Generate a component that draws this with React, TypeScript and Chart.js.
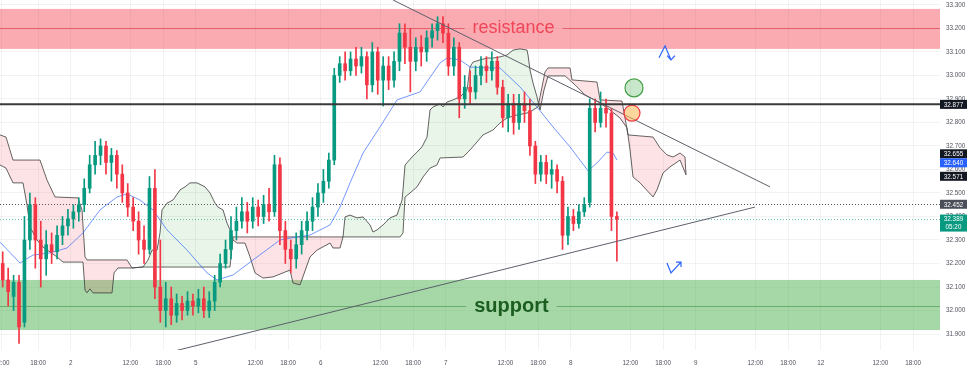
import React, { useEffect, useRef } from "react";
import { Chart, registerables } from "chart.js";

Chart.register(...registerables);

// ---------- candles (hourly, x = hours from chart start) ----------
const CANDLE_OFFSET = 0.5;
const OPEN = [
  32.20, 32.13, 32.06, 32.12, 31.95, 32.30, 32.45, 32.30, 32.22, 32.28,
  32.25, 32.32, 32.36, 32.39, 32.42, 32.45, 32.52, 32.62, 32.66, 32.70,
  32.63, 32.66, 32.58, 32.50, 32.44, 32.38, 32.30, 32.26, 32.52, 32.10,
  32.00, 32.05, 31.98, 32.03, 32.00, 32.04, 32.02, 32.05, 32.00, 32.04,
  32.12, 32.20, 32.26, 32.34, 32.38, 32.42, 32.38, 32.44, 32.40, 32.45,
  32.42, 32.62, 32.34, 32.26, 32.22, 32.28, 32.34, 32.38, 32.44, 32.50,
  32.55, 32.64, 33.00, 33.05, 33.02, 33.07, 33.04, 33.08, 32.96, 33.10,
  32.98, 33.04, 32.98, 33.06, 33.18, 33.12, 33.06, 33.12, 33.10, 33.16,
  33.19, 33.22, 33.18, 33.04, 33.12, 32.90, 32.95, 32.93, 33.00, 33.04,
  33.02, 33.06, 32.95, 32.82, 32.88, 32.80, 32.88, 32.85, 32.70, 32.58,
  32.63, 32.58, 32.60, 32.55, 32.32, 32.40, 32.37, 32.42, 32.46, 32.86,
  32.80, 32.86, 32.84, 32.40,
];
const HIGH = [
  32.25, 32.18, 32.15, 32.15, 32.40, 32.50, 32.48, 32.38, 32.34, 32.33,
  32.36, 32.40, 32.43, 32.45, 32.48, 32.56, 32.66, 32.72, 32.73, 32.72,
  32.69, 32.68, 32.62, 32.54, 32.48, 32.42, 32.36, 32.57, 32.60, 32.30,
  32.12, 32.10, 32.07, 32.06, 32.08, 32.07, 32.09, 32.10, 32.08, 32.15,
  32.24, 32.30, 32.40, 32.44, 32.48, 32.46, 32.48, 32.47, 32.49, 32.52,
  32.66, 32.65, 32.38, 32.30, 32.33, 32.38, 32.42, 32.48, 32.54, 32.60,
  32.67, 33.03, 33.08, 33.10, 33.10, 33.12, 33.12, 33.10, 33.14, 33.12,
  33.08, 33.08, 33.10, 33.22, 33.22, 33.20, 33.16, 33.17, 33.19, 33.22,
  33.25, 33.25, 33.22, 33.16, 33.14, 33.00, 33.02, 33.04, 33.08, 33.08,
  33.10, 33.08, 32.98, 32.92, 32.92, 32.92, 32.93, 32.90, 32.72, 32.66,
  32.66, 32.64, 32.62, 32.57, 32.44, 32.43, 32.45, 32.48, 32.90, 32.90,
  32.93, 32.90, 32.86, 32.42,
];
const LOW = [
  32.10, 32.02, 32.00, 31.86, 31.93, 32.26, 32.18, 32.10, 32.15, 32.20,
  32.22, 32.28, 32.32, 32.35, 32.38, 32.42, 32.50, 32.58, 32.62, 32.58,
  32.55, 32.52, 32.46, 32.40, 32.34, 32.24, 32.20, 32.24, 32.05, 31.95,
  31.93, 31.94, 31.95, 31.96, 31.98, 31.98, 31.99, 31.97, 31.97, 32.00,
  32.10, 32.18, 32.22, 32.30, 32.35, 32.33, 32.35, 32.36, 32.37, 32.38,
  32.40, 32.28, 32.20, 32.16, 32.18, 32.24, 32.30, 32.34, 32.40, 32.46,
  32.52, 32.62, 32.97, 32.98, 33.00, 33.00, 33.01, 32.90, 32.93, 32.92,
  32.87, 32.94, 32.95, 33.02, 33.05, 32.93, 33.02, 33.04, 33.06, 33.12,
  33.15, 33.14, 33.00, 33.00, 32.82, 32.86, 32.88, 32.90, 32.96, 32.97,
  32.98, 32.92, 32.78, 32.76, 32.75, 32.77, 32.80, 32.66, 32.54, 32.55,
  32.54, 32.52, 32.50, 32.26, 32.28, 32.34, 32.35, 32.40, 32.44, 32.76,
  32.78, 32.78, 32.34, 32.21,
];
const CLOSE = [
  32.13, 32.08, 32.12, 31.93, 32.30, 32.45, 32.30, 32.22, 32.28, 32.25,
  32.32, 32.36, 32.39, 32.42, 32.45, 32.52, 32.62, 32.66, 32.70, 32.63,
  32.66, 32.58, 32.50, 32.44, 32.38, 32.30, 32.26, 32.52, 32.10, 32.00,
  32.05, 31.98, 32.03, 32.00, 32.04, 32.02, 32.05, 32.00, 32.04, 32.12,
  32.20, 32.26, 32.34, 32.38, 32.42, 32.38, 32.44, 32.40, 32.45, 32.42,
  32.62, 32.34, 32.26, 32.22, 32.28, 32.34, 32.38, 32.44, 32.50, 32.55,
  32.64, 33.00, 33.05, 33.02, 33.07, 33.04, 33.08, 32.96, 33.10, 32.98,
  33.04, 32.98, 33.06, 33.18, 33.12, 33.06, 33.12, 33.10, 33.16, 33.19,
  33.22, 33.18, 33.04, 33.12, 32.90, 32.95, 32.93, 33.00, 33.04, 33.02,
  33.06, 32.95, 32.82, 32.88, 32.80, 32.88, 32.85, 32.70, 32.58, 32.63,
  32.58, 32.60, 32.55, 32.32, 32.40, 32.37, 32.42, 32.45, 32.86, 32.80,
  32.86, 32.84, 32.40, 32.389,
];

// ---------- Ichimoku cloud spans [hour, price] ----------
const SPAN_A: [number, number][] = [
  [0, 32.619], [1.10, 32.606], [2.39, 32.543], [4.23, 32.543], [4.97, 32.449], [5.52, 32.355],
  [6.81, 32.300], [7.91, 32.270], [10.49, 32.228], [11.59, 32.206], [15.27, 32.206], [15.64, 32.087],
  [16.01, 32.075], [16.56, 32.092], [17.11, 32.075], [20.61, 32.075], [20.98, 32.160], [21.71, 32.181],
  [24.29, 32.181], [26.31, 32.185], [27.23, 32.215], [27.97, 32.257], [28.89, 32.257], [29.44, 32.330],
  [29.81, 32.428], [30.73, 32.457], [31.83, 32.470], [33.12, 32.513], [34.04, 32.526], [34.96, 32.543],
  [36.25, 32.543], [37.72, 32.526], [38.64, 32.500], [39.56, 32.457], [40.11, 32.440], [41.03, 32.428],
  [41.77, 32.372], [42.32, 32.343], [42.87, 32.300], [43.61, 32.287], [45.08, 32.287], [46.00, 32.228],
  [46.92, 32.160], [48.39, 32.138], [50.23, 32.143], [53.36, 32.172], [53.91, 32.117], [55.20, 32.109],
  [57.04, 32.228], [58.33, 32.257], [60.72, 32.287], [61.27, 32.266], [62.56, 32.266], [63.11, 32.313],
  [63.48, 32.398], [64.40, 32.406], [65.69, 32.394], [66.79, 32.398], [68.08, 32.364], [68.63, 32.334],
  [69.37, 32.343], [70.47, 32.364], [71.76, 32.394], [73.05, 32.406], [73.97, 32.470], [74.15, 32.513],
  [74.52, 32.619], [75.81, 32.653], [76.73, 32.674], [77.64, 32.696], [78.57, 32.738], [79.12, 32.853],
  [79.67, 32.866], [80.96, 32.879], [81.51, 32.866], [82.25, 32.887], [83.35, 32.896], [84.64, 32.909],
  [85.93, 32.938], [86.48, 33.036], [87.03, 33.057], [88.32, 33.066], [89.61, 33.074], [90.71, 33.074],
  [92.00, 33.079], [93.28, 33.087], [94.39, 33.108], [95.68, 33.113], [96.96, 33.108], [97.15, 33.087],
  [97.52, 33.023], [98.07, 32.968], [98.80, 32.909], [99.36, 32.853], [100.09, 32.938], [100.83, 32.998],
  [103.96, 32.998], [105.80, 32.960], [107.64, 32.917], [110.40, 32.883], [112.24, 32.853], [114.08, 32.819],
  [115.36, 32.777], [115.92, 32.683], [116.47, 32.568], [117.76, 32.543], [120.15, 32.483], [120.88, 32.513],
  [121.99, 32.585], [123.28, 32.611], [125.12, 32.640], [126.22, 32.577],
];
const SPAN_B: [number, number][] = [
  [0, 32.747], [1.10, 32.738], [2.39, 32.640], [7.36, 32.640], [8.65, 32.555], [10.12, 32.483],
  [14.35, 32.479], [15.09, 32.428], [15.64, 32.228], [16.01, 32.215], [23.37, 32.215], [24.29, 32.181],
  [26.31, 32.185], [42.32, 32.185], [42.87, 32.313], [60.72, 32.313], [73.60, 32.313], [74.15, 32.330],
  [74.52, 32.483], [75.44, 32.500], [76.73, 32.526], [77.83, 32.568], [79.12, 32.606], [80.40, 32.619],
  [80.96, 32.649], [85.19, 32.653], [86.48, 32.683], [87.76, 32.717], [88.87, 32.747], [90.71, 32.768],
  [92.00, 32.798], [93.28, 32.819], [95.12, 32.832], [96.96, 32.840], [98.07, 32.853], [98.99, 32.866],
  [100.28, 33.015], [100.83, 33.032], [104.88, 33.032], [105.24, 32.981], [109.84, 32.972], [110.40, 32.896],
  [114.44, 32.891], [115.55, 32.747], [120.15, 32.738], [121.44, 32.692], [122.72, 32.662], [123.83, 32.653],
  [125.12, 32.670], [126.03, 32.653], [126.22, 32.577],
];

// ---------- moving average [hour, price] ----------
const MA: [number, number][] = [
  [0, 32.291], [3.68, 32.202], [6.07, 32.236], [9.20, 32.245], [12.33, 32.266], [15.27, 32.330],
  [18.40, 32.428], [21.53, 32.483], [23.37, 32.496], [25.76, 32.470], [28.15, 32.428], [30.73, 32.343],
  [34.41, 32.257], [38.09, 32.160], [39.93, 32.130], [42.87, 32.151], [46.55, 32.215], [51.52, 32.300],
  [54.65, 32.313], [57.04, 32.321], [60.72, 32.364], [62.56, 32.440], [64.40, 32.543], [66.79, 32.670],
  [69.92, 32.781], [73.05, 32.896], [77.28, 32.930], [80.96, 33.053], [82.25, 33.074], [84.64, 33.066],
  [86.48, 33.036], [89.61, 33.032], [92.00, 33.032], [95.68, 32.951], [98.80, 32.866], [101.75, 32.781],
  [104.88, 32.696], [108.19, 32.594], [109.84, 32.628], [111.68, 32.674], [112.79, 32.670], [113.52, 32.640],
];

// ---------- drawings ----------
const TREND_DOWN: [number, number][] = [[72.31, 33.321], [141.67, 32.526]];
const TREND_UP: [number, number][] = [[31.28, 31.823], [138.91, 32.440]];
const CIRCLE_GREEN: [number, number] = [116.65, 32.947];
const CIRCLE_ORANGE: [number, number] = [116.28, 32.840];
const ARROW_TOP: ([number, number] | null)[] = [
  [121.25, 33.075], [122.36, 33.126], [123.46, 33.066], null,
  [122.72, 33.084], [123.46, 33.066], [124.20, 33.084],
];
const ARROW_BOTTOM: ([number, number] | null)[] = [
  [122.72, 32.202], [123.46, 32.160], [125.30, 32.206], null,
  [124.38, 32.206], [125.30, 32.206], [125.30, 32.185],
];

const RES_ZONE = [33.113, 33.283];
const RES_MID = 33.2;
const RES_LABEL = "resistance";
const RES_LABEL_X = 94.5;
const SUP_ZONE = [31.917, 32.130];
const SUP_MID = 32.02;
const SUP_LABEL = "support";
const SUP_LABEL_X = 94.1;

const LEVEL_SOLID = 32.877;
const LEVEL_DOTTED = 32.452;
const LAST_PRICE = 32.389;
const COUNTDOWN = "05:20";

const PRICE_TAGS = [
  { value: 32.877, bg: "#131722" },
  { value: 32.655, bg: "#131722" },
  { value: 32.64, bg: "#2962ff" },
  { value: 32.571, bg: "#131722" },
  { value: 32.452, bg: "#4a4e59" },
  { value: 32.389, bg: "#089981", sub: COUNTDOWN },
];

// ---------- axes ----------
const X_MIN = 0;
const X_MAX = 172.95;
const Y_MIN = 31.832;
const Y_MAX = 33.321;
const X_TICKS = [0.3, 7, 13, 24, 30, 36, 47, 53, 59, 70, 76, 82, 93, 99, 105, 116, 122, 128, 139, 145, 151, 162, 168];
const X_LABELS = ["12:00", "18:00", "2", "12:00", "18:00", "5", "12:00", "18:00", "6", "12:00", "18:00", "7",
  "12:00", "18:00", "8", "12:00", "18:00", "9", "12:00", "18:00", "12", "12:00", "18:00"];
const Y_TICKS = [31.9, 32.0, 32.1, 32.2, 32.3, 32.4, 32.5, 32.6, 32.7, 32.8, 32.9, 33.0, 33.1, 33.2, 33.3];

const UP = "#089981";
const DOWN = "#f23645";
const FONT = '"Liberation Sans", Arial, sans-serif';
const TICK_FONT_SIZE = 6.3;

const toXY = (arr: ([number, number] | null)[]) =>
  arr.map((p) => (p ? { x: p[0], y: p[1] } : { x: NaN, y: null as any }));

const noPad = (s: any) => {
  s.paddingLeft = 0;
  s.paddingRight = 0;
  s.paddingTop = 0;
  s.paddingBottom = 0;
};

const overlay = {
  id: "overlay",
  beforeDatasetsDraw(chart: any) {
    const { ctx, chartArea: a, scales } = chart;
    const x = scales.x;
    const y = scales.y;
    ctx.save();
    ctx.beginPath();
    ctx.rect(a.left, a.top, a.right - a.left, a.bottom - a.top);
    ctx.clip();
    const w = a.right - a.left;

    const r0 = y.getPixelForValue(RES_ZONE[0]);
    const r1 = y.getPixelForValue(RES_ZONE[1]);
    ctx.fillStyle = "rgba(242,54,69,0.42)";
    ctx.fillRect(a.left, r1, w, r0 - r1);
    const s0 = y.getPixelForValue(SUP_ZONE[0]);
    const s1 = y.getPixelForValue(SUP_ZONE[1]);
    ctx.fillStyle = "rgba(76,175,80,0.5)";
    ctx.fillRect(a.left, s1, w, s0 - s1);

    const rm = Math.round(y.getPixelForValue(RES_MID)) + 0.5;
    const rx = x.getPixelForValue(RES_LABEL_X);
    ctx.font = `18px ${FONT}`;
    const rw = ctx.measureText(RES_LABEL).width;
    ctx.strokeStyle = "rgba(220,40,60,0.55)";
    ctx.lineWidth = 1;
    ctx.beginPath();
    ctx.moveTo(a.left, rm);
    ctx.lineTo(rx - rw / 2 - 8, rm);
    ctx.moveTo(rx + rw / 2 + 8, rm);
    ctx.lineTo(a.right, rm);
    ctx.stroke();
    ctx.fillStyle = "#f0465a";
    ctx.textAlign = "center";
    ctx.textBaseline = "middle";
    ctx.fillText(RES_LABEL, rx, rm);

    const sm = Math.round(y.getPixelForValue(SUP_MID)) + 0.5;
    const sx = x.getPixelForValue(SUP_LABEL_X);
    ctx.font = `bold 20px ${FONT}`;
    const sw = ctx.measureText(SUP_LABEL).width;
    ctx.strokeStyle = "rgba(56,142,60,0.55)";
    ctx.beginPath();
    ctx.moveTo(a.left, sm);
    ctx.lineTo(sx - sw / 2 - 8, sm);
    ctx.moveTo(sx + sw / 2 + 8, sm);
    ctx.lineTo(a.right, sm);
    ctx.stroke();
    ctx.fillStyle = "#1b5e20";
    ctx.fillText(SUP_LABEL, sx, sm);

    ctx.setLineDash([1, 2]);
    ctx.lineWidth = 1;
    const ld = Math.round(y.getPixelForValue(LEVEL_DOTTED)) + 0.5;
    ctx.strokeStyle = "#50535e";
    ctx.beginPath();
    ctx.moveTo(a.left, ld);
    ctx.lineTo(a.right, ld);
    ctx.stroke();
    const lp = Math.round(y.getPixelForValue(LAST_PRICE)) + 0.5;
    ctx.strokeStyle = "rgba(8,153,129,0.6)";
    ctx.beginPath();
    ctx.moveTo(a.left, lp);
    ctx.lineTo(a.right, lp);
    ctx.stroke();
    ctx.setLineDash([]);
    ctx.restore();
  },
  afterDatasetsDraw(chart: any) {
    const { ctx, chartArea: a, scales } = chart;
    const y = scales.y;
    ctx.save();
    const ls = y.getPixelForValue(LEVEL_SOLID);
    ctx.strokeStyle = "#3a3a3a";
    ctx.lineWidth = 2;
    ctx.beginPath();
    ctx.moveTo(a.left, ls);
    ctx.lineTo(a.right, ls);
    ctx.stroke();
    ctx.restore();
  },
  afterDraw(chart: any) {
    const { ctx, chartArea: a, scales } = chart;
    const y = scales.y;
    const H = 9;
    const items = PRICE_TAGS.map((t) => ({ ...t, py: y.getPixelForValue(t.value) }));
    items.sort((p, q) => p.py - q.py);
    for (let it = 0; it < 30; it++) {
      for (let i = 1; i < items.length; i++) {
        const d = items[i].py - items[i - 1].py;
        if (d < H) {
          const push = (H - d) / 2;
          items[i].py += push;
          items[i - 1].py -= push;
        }
      }
    }
    ctx.save();
    ctx.font = `${TICK_FONT_SIZE}px ${FONT}`;
    ctx.textAlign = "center";
    ctx.textBaseline = "middle";
    for (const t of items) {
      const h = t.sub ? 17 : H;
      ctx.fillStyle = t.bg;
      ctx.fillRect(a.right, t.py - H / 2, 27, h);
      ctx.fillStyle = "#ffffff";
      ctx.fillText(t.value.toFixed(3), a.right + 13.5, t.py + 0.5);
      if (t.sub) ctx.fillText(t.sub, a.right + 13.5, t.py + 8.5);
    }
    ctx.restore();
  },
};

export default function App() {
  const ref = useRef<HTMLCanvasElement>(null);
  useEffect(() => {
    const canvas = ref.current;
    if (!canvas) return;
    const times = CLOSE.map((_, i) => i + CANDLE_OFFSET);
    const colors = CLOSE.map((c, i) => (c >= OPEN[i] ? UP : DOWN));
    const lineBase = { type: "line", pointRadius: 0, tension: 0, fill: false, spanGaps: false };
    const chart = new Chart(canvas, {
      type: "bar",
      data: {
        datasets: [
          {
            ...lineBase,
            label: "Span A",
            data: toXY(SPAN_A),
            borderColor: "rgba(70,70,70,0.85)",
            borderWidth: 1,
            fill: { target: 1, above: "rgba(76,175,80,0.13)", below: "rgba(242,54,69,0.14)" },
            order: 20,
          },
          {
            ...lineBase,
            label: "Span B",
            data: toXY(SPAN_B),
            borderColor: "rgba(70,70,70,0.85)",
            borderWidth: 1,
            order: 20,
          },
          {
            ...lineBase,
            label: "MA",
            data: toXY(MA),
            borderColor: "rgba(41,98,255,0.65)",
            borderWidth: 1,
            order: 15,
          },
          {
            type: "bar",
            label: "wicks",
            data: times.map((t, i) => ({ x: t, y: [LOW[i], HIGH[i]] })),
            backgroundColor: colors,
            barThickness: 1,
            grouped: false,
            minBarLength: 1,
            borderWidth: 0,
            order: 10,
          },
          {
            type: "bar",
            label: "bodies",
            data: times.map((t, i) => ({ x: t, y: [OPEN[i], CLOSE[i]] })),
            backgroundColor: colors,
            barThickness: 3,
            grouped: false,
            minBarLength: 1,
            borderWidth: 0,
            order: 9,
          },
          {
            ...lineBase,
            label: "trend down",
            data: toXY(TREND_DOWN),
            borderColor: "#5d606b",
            borderWidth: 1,
            order: 5,
          },
          {
            ...lineBase,
            label: "trend up",
            data: toXY(TREND_UP),
            borderColor: "#5d606b",
            borderWidth: 1,
            order: 5,
          },
          {
            ...lineBase,
            label: "green circle",
            showLine: false,
            data: toXY([CIRCLE_GREEN]),
            pointRadius: 9,
            pointBackgroundColor: "rgba(76,175,80,0.3)",
            pointBorderColor: "#43a047",
            pointBorderWidth: 1.2,
            order: 3,
          },
          {
            ...lineBase,
            label: "orange circle",
            showLine: false,
            data: toXY([CIRCLE_ORANGE]),
            pointRadius: 8,
            pointBackgroundColor: "rgba(255,183,77,0.55)",
            pointBorderColor: "#f23645",
            pointBorderWidth: 1.2,
            order: 3,
          },
          {
            ...lineBase,
            label: "arrow top",
            data: toXY(ARROW_TOP),
            borderColor: "#2962ff",
            borderWidth: 1.2,
            order: 2,
          },
          {
            ...lineBase,
            label: "arrow bottom",
            data: toXY(ARROW_BOTTOM),
            borderColor: "#2962ff",
            borderWidth: 1.2,
            order: 2,
          },
        ] as any,
      },
      options: {
        responsive: false,
        animation: false,
        devicePixelRatio: 1,
        events: [],
        layout: { padding: 0, autoPadding: false },
        plugins: { legend: { display: false }, tooltip: { enabled: false } },
        scales: {
          x: {
            type: "linear",
            position: "bottom",
            min: X_MIN,
            max: X_MAX,
            offset: false,
            afterBuildTicks: (s: any) => {
              s.ticks = X_TICKS.map((v) => ({ value: v }));
            },
            afterFit: (s: any) => {
              s.height = 25;
              noPad(s);
            },
            ticks: {
              autoSkip: false,
              maxRotation: 0,
              padding: 9,
              color: "#50535e",
              font: { size: TICK_FONT_SIZE, family: FONT },
              callback: (_v: any, i: number) => X_LABELS[i],
            },
            grid: { color: "rgba(42,46,57,0.06)", drawTicks: false, offset: false },
            border: { display: false },
          },
          y: {
            type: "linear",
            position: "right",
            min: Y_MIN,
            max: Y_MAX,
            afterBuildTicks: (s: any) => {
              s.ticks = Y_TICKS.map((v) => ({ value: v }));
            },
            afterFit: (s: any) => {
              s.width = 34;
              noPad(s);
            },
            ticks: {
              padding: 6,
              color: "#50535e",
              font: { size: TICK_FONT_SIZE, family: FONT },
              callback: (v: any) => Number(v).toFixed(3),
            },
            grid: { color: "rgba(42,46,57,0.06)", drawTicks: false },
            border: { display: false },
          },
        },
      } as any,
      plugins: [overlay],
    });
    return () => chart.destroy();
  }, []);

  return (
    <div style={{ position: "absolute", left: 0, top: 0, width: 974, height: 375, background: "#ffffff" }}>
      <canvas ref={ref} width={974} height={375} style={{ display: "block", width: 974, height: 375 }} />
    </div>
  );
}
